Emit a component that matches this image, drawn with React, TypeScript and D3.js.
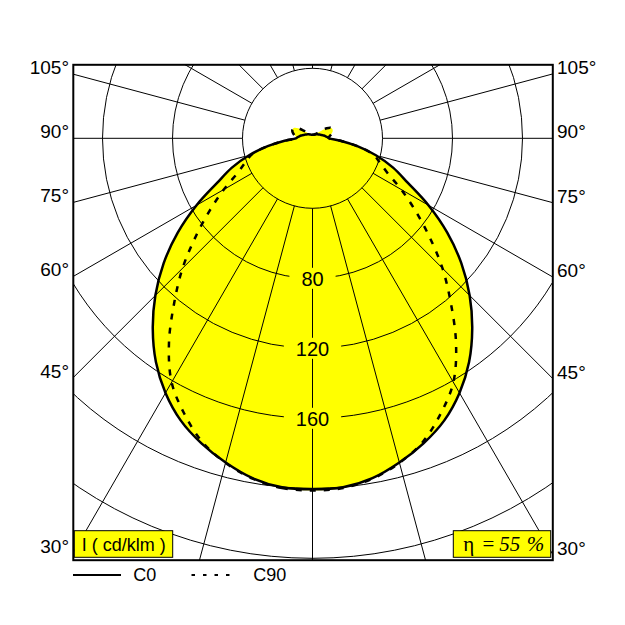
import React from "react";
import * as d3 from "d3";

// Gamma angles (deg from nadir), 0..180 step 5
const gammaAngles = [0,5,10,15,20,25,30,35,40,45,50,55,60,65,70,75,80,85,90,95,100,105,110,115,120,125,130,135,140,145,150,155,160,165,170,175,180];
// Luminous intensity (cd/klm), C0 plane (solid)
const c0Values = [200.6,200.2,197.2,191.8,185.5,178,168,156,142,127,111,94,76.5,60,49,37.5,26,16,9.5,8.4,7.4,6.4,5.6,4.9,4.3,3.9,3.5,3.2,2.95,2.7,2.5,2.35,2.2,2.1,2.05,2.0,2.0];
// C90 plane (dashed)
const c90Values = [201.2,200.6,197.5,192,184.5,173.5,161,143,123,105,87,71.5,58.5,47.5,41,36,26,16,9.5,9.5,10.5,11.5,12.3,12.5,12,10,7,4.8,3.5,3,2.6,2.4,2.2,2.1,2.05,2.0,2.0];

const ringValues = [40, 80, 120, 160, 200, 240, 280];
const ringLabels = [80, 120, 160];
const angleTickLabels = [30, 45, 60, 75, 90, 105];
const radialAngles = d3.range(0, 360, 15);
const legendItems = ["C0", "C90"];
const unitLabel = "I ( cd/klm )";
const etaValue = "55";

const FRAME = { x0: 73.3, y0: 64.8, x1: 552.8, y1: 560.2 };
const CX = 312.5;
const CY = 138.3;
const YELLOW = "#FFFF00";
const SANS = "'Liberation Sans', Arial, Helvetica, sans-serif";
const SERIF = "'Liberation Serif', 'Times New Roman', serif";

const deg = Math.PI / 180;

export default function App() {
  const r = d3.scaleLinear().domain([0, 40]).range([0, 70]);

  const toClosed = (vals: number[]): [number, number][] => {
    const pts: [number, number][] = [];
    gammaAngles.forEach((t, i) => pts.push([Math.PI + t * deg, vals[i]]));
    for (let i = gammaAngles.length - 2; i >= 1; i--) {
      pts.push([Math.PI - gammaAngles[i] * deg, vals[i]]);
    }
    return pts;
  };

  const radial = d3
    .lineRadial<[number, number]>()
    .angle((d) => d[0])
    .radius((d) => r(d[1]))
    .curve(d3.curveCatmullRomClosed.alpha(0.5));

  const c0Path = radial(toClosed(c0Values)) || "";
  const c90Path = radial(toClosed(c90Values)) || "";

  const innerR = r(ringValues[0]);
  const outerR = 1200;

  const leftDx = CX - FRAME.x0;
  const rightDx = FRAME.x1 - CX;

  return (
    <svg
      width={625}
      height={625}
      style={{ position: "absolute", left: 0, top: 0, background: "#fff" }}
    >
      <defs>
        <clipPath id="frameClip">
          <rect x={FRAME.x0} y={FRAME.y0} width={FRAME.x1 - FRAME.x0} height={FRAME.y1 - FRAME.y0} />
        </clipPath>
      </defs>
      <rect x={0} y={0} width={625} height={625} fill="#fff" />
      <g clipPath="url(#frameClip)">
        <g transform={`translate(${CX},${CY})`}>
          <path d={c0Path} fill={YELLOW} stroke="none" />
          <path d={c90Path} fill={YELLOW} stroke="none" />
          {ringValues.map((v) => (
            <circle key={v} r={r(v)} fill="none" stroke="#000" strokeWidth={1} />
          ))}
          {radialAngles.map((a) => (
            <line
              key={a}
              x1={innerR * Math.sin(a * deg)}
              y1={innerR * Math.cos(a * deg)}
              x2={outerR * Math.sin(a * deg)}
              y2={outerR * Math.cos(a * deg)}
              stroke="#000"
              strokeWidth={1}
            />
          ))}
          {ringLabels.map((v) => {
            const s = String(v);
            const w = s.length * 11.1 + 24;
            return (
              <g key={v} transform={`translate(0,${r(v)})`}>
                <rect x={-w / 2} y={-10.5} width={w} height={21} fill={YELLOW} />
                <text
                  textAnchor="middle"
                  dy="0.36em"
                  fontFamily={SANS}
                  fontSize={20}
                  fill="#000"
                >
                  {s}
                </text>
              </g>
            );
          })}
          <path d={c0Path} fill="none" stroke="#000" strokeWidth={2.5} />
          <path d={c90Path} fill="none" stroke="#000" strokeWidth={2.5} strokeDasharray="6 8" />
        </g>
      </g>
      <rect
        x={FRAME.x0}
        y={FRAME.y0}
        width={FRAME.x1 - FRAME.x0}
        height={FRAME.y1 - FRAME.y0}
        fill="none"
        stroke="#000"
        strokeWidth={2}
      />
      {angleTickLabels.map((a) => {
        const cot = Math.cos(a * deg) / Math.sin(a * deg);
        const yl = CY + leftDx * cot;
        const yr = CY + rightDx * cot;
        return (
          <g key={a} fontFamily={SANS} fontSize={19} fill="#000">
            <text x={69} y={yl} textAnchor="end">{`${a}°`}</text>
            <text x={557} y={yr} textAnchor="start">{`${a}°`}</text>
          </g>
        );
      })}
      {/* unit box */}
      <rect x={74.3} y={530.7} width={98.4} height={26.6} fill={YELLOW} stroke="#000" strokeWidth={1} />
      <text x={81.7} y={550.5} fontFamily={SANS} fontSize={18} fill="#000">{unitLabel}</text>
      {/* efficiency box */}
      <rect x={453.3} y={530.7} width={97.4} height={26.6} fill={YELLOW} stroke="#000" strokeWidth={1} />
      <g fontFamily={SERIF} fontSize={21} fill="#000">
        <text x={463.3} y={551}>η</text>
        <text x={482.5} y={551}>=</text>
        <text x={499.3} y={551} fontStyle="italic">{etaValue}</text>
        <text x={526.7} y={551} fontStyle="italic">%</text>
      </g>
      {/* legend */}
      <line x1={73} x2={121} y1={575} y2={575} stroke="#000" strokeWidth={2} />
      <text x={133.3} y={580.5} fontFamily={SANS} fontSize={18} fill="#000">{legendItems[0]}</text>
      <line x1={191.5} x2={233} y1={575} y2={575} stroke="#000" strokeWidth={2} strokeDasharray="3.5 8" />
      <text x={253.3} y={580.5} fontFamily={SANS} fontSize={18} fill="#000">{legendItems[1]}</text>
    </svg>
  );
}
